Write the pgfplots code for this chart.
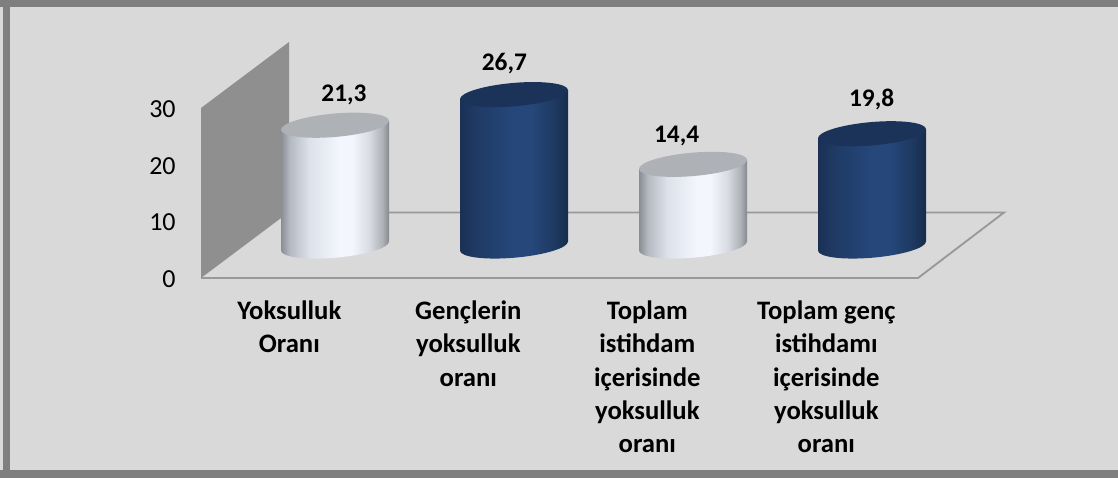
\documentclass[border=0pt]{standalone}
\usepackage{pgfplots}
\pgfplotsset{compat=1.18}
\usepackage{fontspec}
\setmainfont{Carlito}
\definecolor{bgc}{HTML}{D9D9D9}
\definecolor{framec}{HTML}{7F7F7F}
\definecolor{wallc}{HTML}{8F8F8F}
\definecolor{floorc}{HTML}{999999}
\definecolor{HTMLa}{HTML}{8A8E94}
\definecolor{HTMLb}{HTML}{B4B8C0}
\definecolor{HTMLc}{HTML}{DDE1EA}
\definecolor{HTMLd}{HTML}{F3F6FD}
\definecolor{HTMLe}{HTML}{D8DBE1}
\definecolor{HTMLf}{HTML}{AEB1B6}
\definecolor{HTMLg}{HTML}{84878C}
\definecolor{BLa}{HTML}{1A3054}
\definecolor{BLb}{HTML}{1F3A64}
\definecolor{BLc}{HTML}{25477A}
\definecolor{BLd}{HTML}{1F3A62}
\definecolor{BLe}{HTML}{172C4E}
\definecolor{topw}{HTML}{AEB1B6}
\definecolor{topb}{HTML}{1B3358}
\pgfdeclarehorizontalshading{whitecyl}{100bp}{
  color(0bp)=(HTMLa); color(25bp)=(HTMLa); color(29bp)=(HTMLb); color(38bp)=(HTMLc);
  color(52bp)=(HTMLd); color(58bp)=(HTMLd); color(66bp)=(HTMLe); color(72bp)=(HTMLf); color(75bp)=(HTMLg); color(100bp)=(HTMLg)}
\pgfdeclarehorizontalshading{bluecyl}{100bp}{
  color(0bp)=(BLa); color(25bp)=(BLa); color(32bp)=(BLb); color(50bp)=(BLc);
  color(58bp)=(BLc); color(68bp)=(BLd); color(75bp)=(BLe); color(100bp)=(BLe)}
% cylinder marks: the data point is on the front floor edge, cylinder offset by the 3D depth
\def\cyl#1#2{%
  \pgfmathsetlengthmacro\cylh{\cyv*4.2525}%
  \pgfscope
  \pgftransformcm{1}{0.083}{0}{1}{\pgfpoint{32.25pt}{24pt}}%
  \path[draw=none,shade,shading=#1]
    (-40.5pt,-\cylh) arc[start angle=180,end angle=360,x radius=40.5pt,y radius=8.8pt]
    -- (40.5pt,0pt) -- (-40.5pt,0pt) -- cycle;
  \path[draw=none,fill=#2] (0pt,0pt) ellipse[x radius=40.5pt,y radius=8.8pt];
  \endpgfscope
}
\pgfdeclareplotmark{cylw}{\cyl{whitecyl}{topw}}
\pgfdeclareplotmark{cylb}{\cyl{bluecyl}{topb}}
\pgfplotsset{cylplot/.style n args={3}{
  only marks, scatter, point meta=y, mark=#1,
  visualization depends on={rawy \as \cyv},
  nodes near coords,
  every node near coord/.append style={anchor=center,xshift=#2,yshift=#3,text=black,
    font=\fontsize{19}{22}\selectfont\bfseries,
    /pgf/number format/.cd,fixed,fixed zerofill,precision=1,use comma}
}}
\begin{document}
\begin{tikzpicture}
\begin{scope}[x=0.75pt,y=-0.75pt]
  \fill[bgc] (0,0) rectangle (1118,478);
  \fill[framec] (0,0) rectangle (1118,7);
  \fill[framec] (3,0) rectangle (10,478);
  \fill[framec] (0,470) rectangle (1118,478);
  \fill[wallc] (201,108) -- (289,42) -- (289,212) -- (201,278) -- cycle;
  \draw[floorc,line width=1.4pt] (201,278) -- (918,278) -- (1004,212.5) -- (289,212.5);
\end{scope}
\begin{axis}[
  at={(150.75pt,-208.5pt)}, anchor=south west,
  scale only axis, width=537.75pt, height=127.575pt,
  xmin=-0.5084, xmax=3.4972, ymin=0, ymax=30,
  clip=false,
  axis line style={draw=none},
  major tick style={draw=none},
  xtick={0,1,2,3},
  xticklabels={Yoksulluk\\Oranı,Gençlerin\\yoksulluk\\oranı,Toplam\\istihdam\\içerisinde\\yoksulluk\\oranı,Toplam genç\\istihdamı\\içerisinde\\yoksulluk\\oranı},
  xticklabel style={align=center,anchor=north,xshift=-2pt,yshift=-13.5pt,font=\fontsize{20}{25}\selectfont\bfseries},
  ytick={0,10,20,30},
  yticklabel style={anchor=east,xshift=-15.5pt,yshift=-1pt,font=\fontsize{19.5}{24}\selectfont},
  /pgf/number format/assume math mode=true,
]
\addplot[cylplot={cylw}{39pt}{47pt}] coordinates {(0,21.3)};
\addplot[cylplot={cylb}{25pt}{47pt}] coordinates {(1,26.7)};
\addplot[cylplot={cylw}{20pt}{45pt}] coordinates {(2,14.4)};
\addplot[cylplot={cylb}{32pt}{50pt}] coordinates {(3,19.8)};
\end{axis}
\end{tikzpicture}
\end{document}
